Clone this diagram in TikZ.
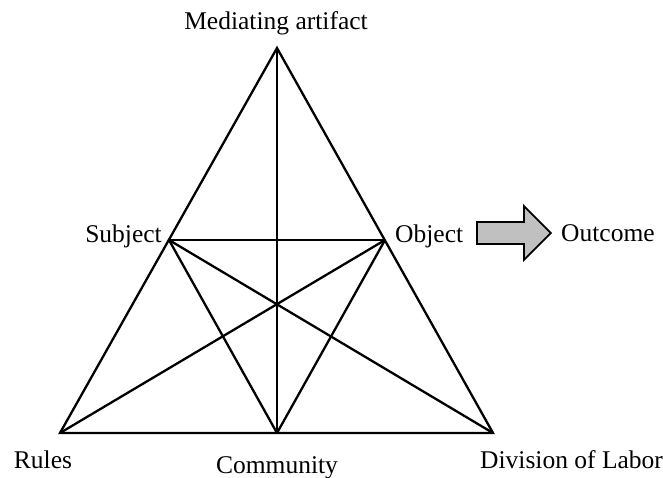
\documentclass[tikz,border=0pt]{standalone}
\usepackage{fontspec}
\setmainfont{Liberation Serif}
\usetikzlibrary{shapes.arrows}
\definecolor{arrowgray}{RGB}{192,192,192}
\begin{document}
\begin{tikzpicture}[
    x=1pt, y=-1pt,
    label/.style={
        inner sep=0pt,
        font=\fontsize{25.5}{28}\selectfont
    },
    link/.style={draw=black, line width=2.3pt, line join=miter},
    blockarrow/.style={
        single arrow, draw=black, fill=arrowgray,
        line width=1.8pt, inner xsep=0pt, inner ysep=10pt,
        minimum height=74pt, minimum width=52pt,
        single arrow head extend=16pt
    },
]
\useasboundingbox (0,0) rectangle (663,478);

% Corners
\coordinate (artifact) at (277,48);
\coordinate (subject) at (169,240);
\coordinate (object) at (385,240);
\coordinate (rules) at (60,433);
\coordinate (community) at (277,433);
\coordinate (division) at (493,433);

% Lines
\draw[link] (artifact) -- (rules) -- (division) -- cycle;
\draw[link] (subject) -- (object);
\draw[link] (artifact) -- (community);
\draw[link] (subject) -- (community);
\draw[link] (subject) -- (division);
\draw[link] (object) -- (community);
\draw[link] (object) -- (rules);

% Labels
\node[label, anchor=base] (artifactlbl) at (276,30) {Mediating artifact};
\node[label, anchor=base east] (subjectlbl) at (162,242) {Subject};
\node[label, anchor=base west] (objectlbl) at (395,242) {Object};
\node[label, anchor=base west] (outcomelbl) at (561,241) {Outcome};
\node[label, anchor=base] (ruleslbl) at (43,468) {Rules};
\node[label, anchor=base] (communitylbl) at (277,473) {Community};
\node[label, anchor=base west] (divisionlbl) at (480,468) {Division of Labor};

% Outcome arrow
\node[blockarrow, anchor=tail] (outarrow) at (476,233) {};

\end{tikzpicture}
\end{document}
